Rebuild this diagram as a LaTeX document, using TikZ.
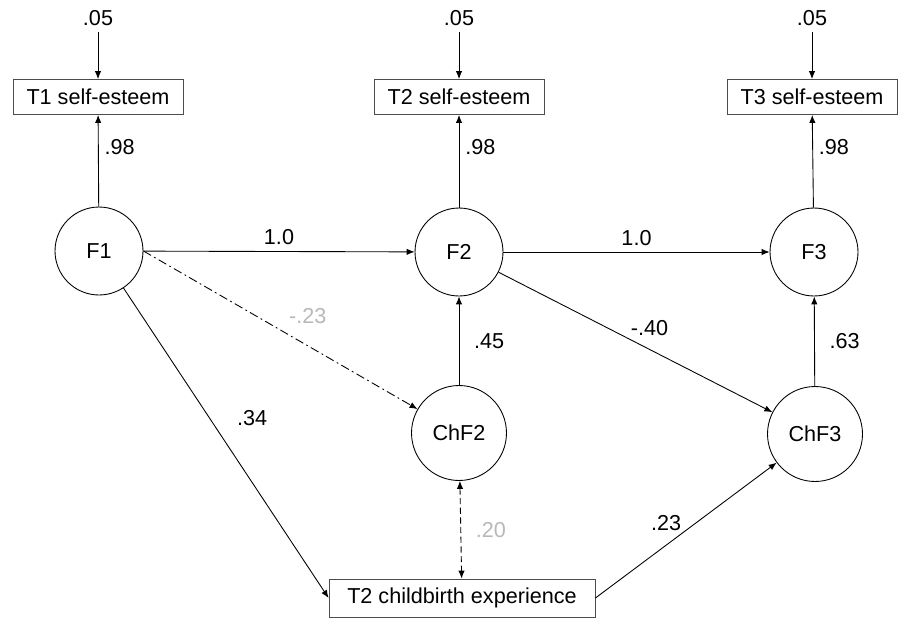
\documentclass[tikz,border=0pt]{standalone}
\usepackage{fontspec}
\setmainfont{Liberation Sans}
\usetikzlibrary{arrows.meta}
\tikzset{
  >={Latex[length=4.5pt,width=3.6pt]},
  latent/.style={circle,draw,minimum size=1.76cm,inner sep=0pt},
  change/.style={circle,draw,minimum size=1.9cm,inner sep=0pt},
  obsbox/.style={draw=black!70,minimum width=3.4cm,minimum height=0.7cm,inner sep=0pt},
  faint/.style={text=black!28},
}

\begin{document}
\begin{tikzpicture}[x=0.02cm,y=-0.02cm,line width=0.5pt,font=\fontsize{12.3}{14}\selectfont]
    \useasboundingbox (0,0) rectangle (899,619);
    % observed self-esteem and their errors
    \node[obsbox] (T1) at (98,97) {T1 self-esteem};
    \node[obsbox] (T2) at (459,97) {T2 self-esteem};
    \node[obsbox] (T3) at (812,97) {T3 self-esteem};
    \node (e1) at (98,18) {.05};
    \node (e2) at (459,18) {.05};
    \node (e3) at (812,18) {.05};
    % latent factors
    \node[latent] (F1) at (99,251) {F1};
    \node[latent] (F2) at (459,252) {F2};
    \node[latent] (F3) at (814,252) {F3};
    \node[change] (ChF2) at (459,433) {ChF2};
    \node[change] (ChF3) at (815,434) {ChF3};
    \node[draw=black!70,minimum width=5.32cm,minimum height=0.76cm,inner sep=0pt]
      (cb) at (462,598) {T2 childbirth experience};
    \begin{scope}[->]
      \draw (e1) -- (T1);
      \draw (e2) -- (T2);
      \draw (e3) -- (T3);
      \draw (F1) -- node[pos=0.65,right]{.98} (T1);
      \draw (F2) -- node[pos=0.65,right]{.98} (T2);
      \draw (F3) -- node[pos=0.65,right]{.98} (T3);
      \draw (F1) -- node[above]{1.0} (F2);
      \draw (F2) -- node[above]{1.0} (F3);
      \draw (F2) -- node[pos=0.5,above,xshift=8pt]{-.40} (ChF3);
      \draw (ChF2) -- node[right=5pt]{.45} (F2);
      \draw (ChF3) -- node[right=5pt]{.63} (F3);
      \draw (F1) -- node[pos=0.42,right,xshift=12pt]{.34} (cb.west);
      \draw (cb.east) -- node[above left,pos=0.45,xshift=6pt]{.23} (ChF3);
      \draw[dash pattern=on 5pt off 2pt on 1pt off 2pt] (F1.east) -- node[pos=0.6,above=9pt,faint]{-.23} (ChF2);
    \end{scope}
    \draw[<->,dash pattern=on 3.5pt off 2pt] (ChF2) -- node[right=5pt,faint]{.20} (cb);
  \end{tikzpicture}
\end{document}
